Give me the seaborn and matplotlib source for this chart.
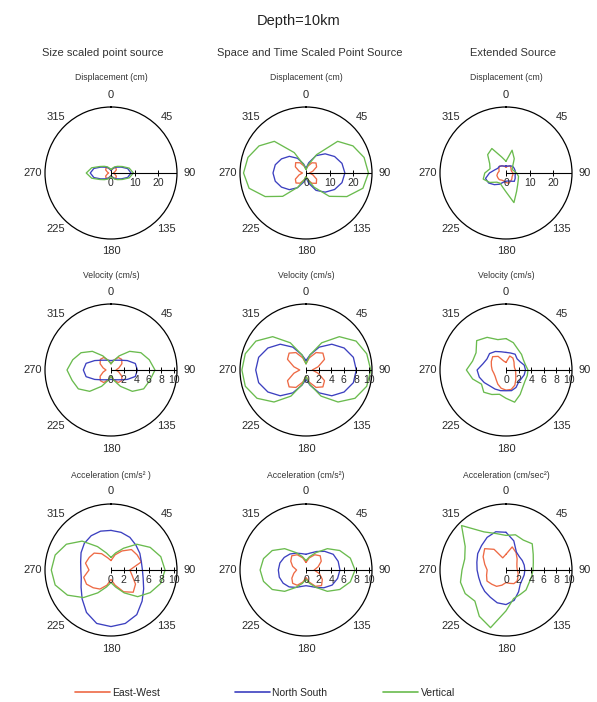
import numpy as np
import pandas as pd
import matplotlib
matplotlib.use("Agg")
import matplotlib.pyplot as plt
import matplotlib.transforms as mtransforms
from matplotlib.lines import Line2D
import seaborn as sns

# ---------------------------------------------------------------- data
azimuth_deg = [0, 15, 30, 45, 60, 75, 90, 105, 120, 135, 150, 165,
               180, 195, 210, 225, 240, 255, 270, 285, 300, 315, 330, 345]

components = ["East-West", "North South", "Vertical"]
column_titles = ["Size scaled point source",
                 "Space and Time Scaled Point Source",
                 "Extended Source"]
row_titles = [["Displacement (cm)", "Displacement (cm)", "Displacement (cm)"],
              ["Velocity (cm/s)", "Velocity (cm/s)", "Velocity (cm/s)"],
              ["Acceleration (cm/s\u00b2 )", "Acceleration (cm/s\u00b2)",
               "Acceleration (cm/sec\u00b2)"]]
angle_labels = ["0", "45", "90", "135", "180", "225", "270", "315"]
disp_rticks = [0, 10, 20]
motion_rticks = [0, 2, 4, 6, 8, 10]

# Displacement (cm)
disp_size_ew = [1.0, 1.6, 2.6, 3.0, 2.6, 1.6, 1.0, 1.6, 2.6, 3.0, 2.6, 1.6,
                1.0, 1.6, 2.6, 3.0, 2.6, 1.6, 1.0, 1.6, 2.6, 3.0, 2.6, 1.6]
disp_size_ns = [1.2, 1.7, 2.6, 3.5, 5.0, 7.3, 8.5, 7.3, 5.0, 3.5, 2.6, 1.7,
                1.2, 1.7, 2.6, 3.5, 5.0, 7.5, 8.8, 7.5, 5.0, 3.5, 2.6, 1.7]
disp_size_v = [1.5, 2.0, 3.0, 4.0, 5.5, 8.0, 9.5, 8.0, 5.5, 4.0, 3.0, 2.0,
               1.5, 2.0, 3.0, 4.0, 5.5, 8.5, 10.5, 8.5, 5.5, 4.0, 3.0, 2.0]

disp_st_ew = [1.5, 3.0, 5.0, 6.0, 5.2, 3.0, 1.5, 3.0, 5.2, 6.2, 5.0, 3.0,
              1.5, 3.0, 5.0, 6.0, 5.2, 3.0, 1.5, 3.0, 5.2, 6.2, 5.0, 3.0]
disp_st_ns = [2.0, 4.5, 8.5, 11.5, 14.0, 15.8, 16.5, 15.8, 14.0, 11.5, 8.5, 4.5,
              2.0, 4.0, 7.2, 10.0, 12.0, 13.5, 14.0, 13.5, 12.0, 10.0, 7.2, 4.0]
disp_st_v = [1.5, 3.5, 9.0, 19.0, 23.0, 25.5, 26.5, 25.0, 20.0, 14.0, 7.0, 3.0,
             1.5, 3.0, 7.0, 14.0, 20.0, 25.0, 26.5, 25.5, 23.0, 19.0, 10.0, 3.5]

disp_ext_ew = [2.5, 3.0, 3.5, 3.0, 2.5, 2.5, 3.0, 3.0, 3.0, 3.5, 4.0, 4.5,
               4.0, 3.5, 3.5, 4.0, 4.0, 4.0, 3.5, 3.0, 3.5, 4.0, 3.5, 3.0]
disp_ext_ns = [3.0, 3.0, 3.5, 4.0, 4.0, 4.0, 4.0, 4.0, 4.5, 5.0, 4.0, 3.5,
               3.5, 4.0, 5.5, 7.0, 8.5, 9.0, 7.0, 5.0, 4.0, 4.0, 3.5, 3.0]
disp_ext_v = [5.0, 10.0, 7.0, 4.0, 3.0, 3.5, 4.5, 5.5, 6.0, 7.0, 9.0, 13.0,
              8.0, 6.0, 5.0, 5.5, 8.0, 10.0, 9.0, 7.0, 8.0, 11.0, 12.0, 7.0]

# Velocity (cm/s)
vel_size_ew = [1.0, 1.6, 2.3, 2.4, 2.0, 1.3, 0.8, 1.3, 2.0, 2.4, 2.3, 1.6,
               1.0, 1.6, 2.3, 2.4, 2.0, 1.3, 0.8, 1.3, 2.0, 2.4, 2.3, 1.6]
vel_size_ns = [1.5, 1.6, 1.8, 2.2, 3.0, 4.0, 4.2, 4.0, 3.0, 2.2, 1.8, 1.6,
               1.5, 1.6, 1.8, 2.2, 3.0, 4.1, 4.4, 4.1, 3.0, 2.2, 1.8, 1.6]
vel_size_v = [1.0, 1.5, 2.6, 4.2, 5.5, 6.3, 7.0, 6.4, 6.0, 4.8, 3.0, 1.7,
              1.0, 1.7, 3.0, 4.8, 6.0, 6.4, 7.0, 6.3, 5.5, 4.2, 2.6, 1.5]

vel_st_ew = [1.0, 2.0, 3.2, 3.8, 3.4, 2.0, 1.0, 2.0, 3.4, 3.8, 3.2, 2.0,
             1.0, 2.0, 3.2, 3.8, 3.4, 2.0, 1.0, 2.0, 3.4, 3.8, 3.2, 2.0]
vel_st_ns = [1.5, 2.5, 4.2, 5.8, 7.0, 7.8, 8.0, 7.8, 7.0, 5.8, 4.2, 2.5,
             1.5, 2.5, 4.2, 5.8, 7.0, 7.8, 8.0, 7.8, 7.0, 5.8, 4.2, 2.5]
vel_st_v = [1.0, 2.5, 5.0, 7.5, 9.2, 10.0, 10.3, 10.0, 9.0, 7.2, 4.8, 2.4,
            1.0, 2.4, 4.8, 7.2, 9.0, 10.0, 10.2, 10.0, 9.2, 7.5, 5.0, 2.5]

vel_ext_ew = [1.2, 2.3, 2.2, 1.8, 1.5, 1.4, 1.5, 1.6, 1.8, 2.2, 2.8, 3.2,
              3.2, 3.0, 2.6, 2.2, 2.0, 2.0, 2.2, 2.4, 2.7, 3.0, 2.5, 1.5]
vel_ext_ns = [2.8, 2.8, 2.9, 2.5, 2.6, 3.0, 3.1, 3.0, 2.8, 2.8, 3.2, 3.4,
              3.3, 3.4, 3.5, 3.6, 4.0, 4.4, 4.6, 3.8, 3.5, 3.7, 3.4, 3.0]
vel_ext_v = [5.0, 4.5, 3.8, 3.5, 3.2, 3.2, 3.5, 3.5, 3.5, 3.8, 4.5, 5.3,
             4.5, 4.0, 4.5, 5.0, 4.5, 5.5, 6.3, 5.5, 5.5, 6.6, 6.0, 5.0]

# Acceleration (cm/s^2)
acc_size_ew = [1.5, 2.5, 3.5, 4.6, 4.8, 5.0, 3.0, 3.5, 4.5, 5.0, 4.0, 2.5,
               1.5, 2.5, 3.5, 4.0, 4.5, 4.5, 3.5, 4.2, 4.0, 3.8, 3.0, 2.0]
acc_size_ns = [6.3, 6.2, 6.0, 5.6, 5.3, 5.0, 5.0, 5.3, 6.0, 7.0, 8.2, 8.8,
               9.0, 8.8, 7.8, 6.5, 5.5, 4.9, 4.8, 5.0, 5.5, 6.0, 6.3, 6.4]
acc_size_v = [2.0, 2.8, 4.0, 5.8, 7.2, 8.2, 8.6, 8.2, 7.2, 6.0, 4.2, 2.8,
              2.0, 2.8, 4.2, 6.2, 8.0, 9.2, 9.5, 9.2, 8.2, 6.5, 4.3, 2.8]

acc_st_ew = [1.2, 2.0, 2.8, 3.2, 2.8, 2.0, 1.3, 2.2, 3.0, 3.5, 3.0, 2.0,
             1.2, 2.0, 2.8, 3.0, 2.6, 2.0, 1.5, 2.2, 2.8, 3.2, 2.8, 2.0]
acc_st_ns = [2.5, 2.8, 3.4, 4.2, 5.0, 5.3, 5.4, 5.2, 4.8, 4.0, 3.2, 2.7,
             2.5, 2.7, 3.2, 3.8, 4.2, 4.4, 4.4, 4.3, 4.0, 3.6, 3.1, 2.7]
acc_st_v = [1.5, 2.2, 3.2, 4.8, 6.2, 7.3, 7.8, 7.3, 6.2, 4.8, 3.2, 2.2,
            1.5, 2.2, 3.2, 4.8, 6.2, 7.0, 7.3, 7.0, 6.2, 4.8, 3.2, 2.2]

acc_ext_ew = [2.5, 3.8, 3.2, 2.5, 2.0, 1.8, 1.8, 2.0, 2.2, 2.5, 2.5, 2.2,
              2.0, 2.5, 3.0, 3.2, 3.5, 3.2, 3.0, 3.5, 4.2, 4.8, 3.8, 2.0]
acc_ext_ns = [6.0, 4.8, 3.3, 3.0, 3.0, 3.0, 3.0, 3.0, 3.0, 3.2, 4.0, 5.0,
              5.5, 5.4, 5.0, 4.8, 4.6, 4.5, 4.6, 4.8, 5.2, 5.5, 6.0, 6.3]
acc_ext_v = [5.5, 5.8, 5.5, 5.9, 5.0, 4.5, 4.3, 4.2, 4.2, 4.5, 4.5, 4.7,
             6.5, 9.5, 8.5, 7.0, 7.5, 7.5, 7.0, 6.8, 7.5, 10.0, 7.0, 6.0]

panels = [
    [(disp_size_ew, disp_size_ns, disp_size_v),
     (disp_st_ew, disp_st_ns, disp_st_v),
     (disp_ext_ew, disp_ext_ns, disp_ext_v)],
    [(vel_size_ew, vel_size_ns, vel_size_v),
     (vel_st_ew, vel_st_ns, vel_st_v),
     (vel_ext_ew, vel_ext_ns, vel_ext_v)],
    [(acc_size_ew, acc_size_ns, acc_size_v),
     (acc_st_ew, acc_st_ns, acc_st_v),
     (acc_ext_ew, acc_ext_ns, acc_ext_v)],
]
row_rmax = [28, 10.5, 10.5]
row_rticks = [disp_rticks, motion_rticks, motion_rticks]

# ---------------------------------------------------------------- style
sns.set_theme(style="white")
plt.rcParams["font.family"] = ["Liberation Sans", "DejaVu Sans"]
palette = dict(zip(components, ["#ee6a45", "#3c40c0", "#6abb4e"]))
text_color = "#2a2a2a"

W, H = 597, 702
fig = plt.figure(figsize=(W / 100, H / 100), dpi=100)
fig.patch.set_facecolor("white")

col_cx = [111, 306, 506]
row_cy = [173, 370, 570]
col_title_x = [103, 310, 513]
RAD = 66


def polar_rect(cx, cy, r=RAD):
    return [(cx - r) / W, 1 - (cy + r) / H, 2 * r / W, 2 * r / H]


def long_frame(series):
    theta = np.deg2rad(np.append(azimuth_deg, 360))
    frames = []
    for name, vals in zip(components, series):
        frames.append(pd.DataFrame({
            "theta": theta,
            "r": np.append(vals, vals[0]),
            "component": name,
        }))
    return pd.concat(frames, ignore_index=True)


for i in range(3):
    for j in range(3):
        ax = fig.add_axes(polar_rect(col_cx[j], row_cy[i]), projection="polar")
        ax.set_theta_zero_location("N")
        ax.set_theta_direction(-1)
        rmax = row_rmax[i]

        df = long_frame(panels[i][j])
        sns.lineplot(data=df, x="theta", y="r", hue="component",
                     palette=palette, sort=False, estimator=None,
                     linewidth=0.95, legend=False, ax=ax)

        ax.set_ylim(0, rmax)
        ax.set_xlabel("")
        ax.set_ylabel("")
        ax.grid(False)
        ax.set_yticks([])
        ax.set_xticks(np.deg2rad(np.arange(0, 360, 45)))
        ax.set_xticklabels(angle_labels, fontsize=8, color=text_color)
        ax.set_xticks(np.deg2rad(np.arange(0, 360, 15)), minor=True)
        ax.tick_params(axis="x", which="major", direction="in",
                       length=5, width=0.8, color="black", pad=2)
        ax.tick_params(axis="x", which="minor", direction="in",
                       length=3, width=0.6, color="black")
        ax.spines["polar"].set_color("black")
        ax.spines["polar"].set_linewidth(0.9)
        ax.set_facecolor("white")

        # radial axis along the 90-degree direction
        ticks = row_rticks[i]
        ax.plot([np.pi / 2, np.pi / 2], [0, rmax], color="black", lw=0.8)
        ax.plot(np.full(len(ticks), np.pi / 2), ticks, ls="none",
                marker="|", ms=4, mew=0.7, color="black")
        lab_tr = mtransforms.offset_copy(ax.transData, fig=fig,
                                         y=-7.5, units="points")
        for t in ticks:
            ax.text(np.pi / 2, t, str(t), transform=lab_tr, fontsize=7.5,
                    ha="center", va="center", color=text_color)

        fig.text(col_cx[j] / W, 1 - (row_cy[i] - 95) / H, row_titles[i][j],
                 fontsize=6.2, ha="center", va="center", color="#333333")

for j, t in enumerate(column_titles):
    fig.text(col_title_x[j] / W, 1 - 53 / H, t, fontsize=8, ha="center",
             va="center", color="#333333")

fig.text(0.5, 1 - 21 / H, "Depth=10km", fontsize=10.5, ha="center",
         va="center", color="#222222")

# legend entries, one per component, laid out along the bottom edge
legend_x = [75, 235, 383]
for c, x0 in zip(components, legend_x):
    fig.legend([Line2D([], [], color=palette[c], lw=1.2)], [c],
               loc="center left", frameon=False, fontsize=7.5,
               bbox_to_anchor=(x0 / W, 1 - 693 / H), borderpad=0,
               borderaxespad=0, handlelength=3.4, handletextpad=0.2)

fig.savefig("out.png", dpi=100, facecolor="white")
